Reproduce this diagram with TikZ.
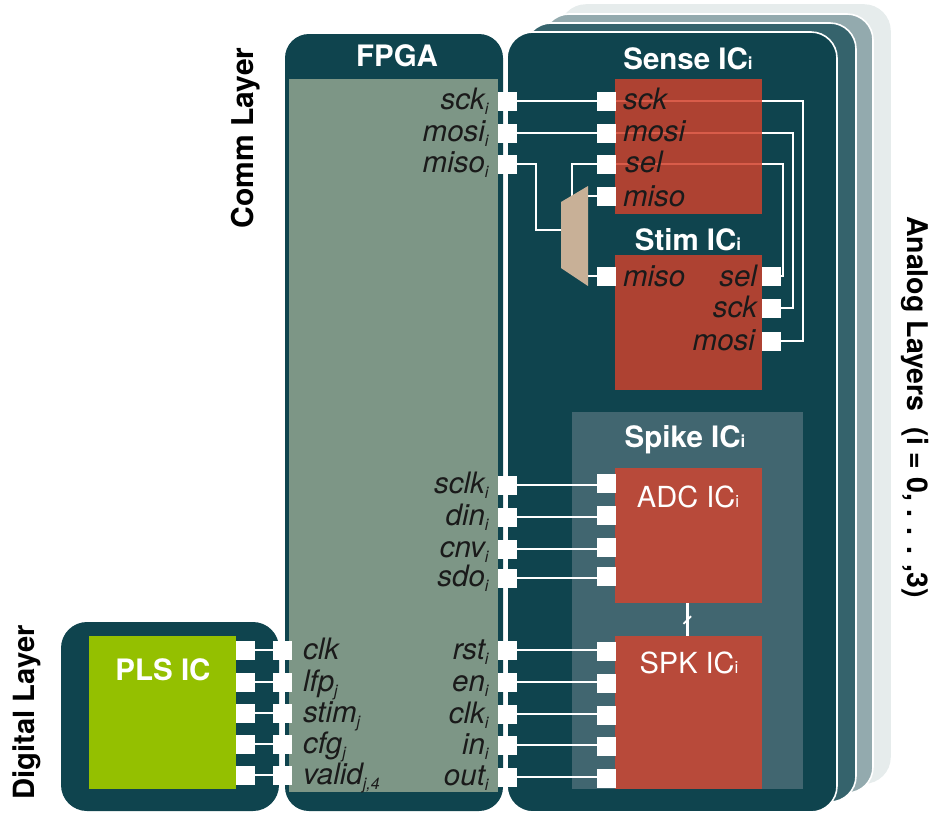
\documentclass[tikz,border=0pt]{standalone}
\usepackage{fontspec}
\usetikzlibrary{calc}
\setmainfont{TeX Gyre Heros}
\definecolor{teal}{HTML}{0F444E}
\definecolor{layA}{HTML}{E6ECEC}
\definecolor{layB}{HTML}{93AAAE}
\definecolor{layC}{HTML}{35636C}
\definecolor{fpgain}{HTML}{7D9686}
\definecolor{plsg}{HTML}{94C000}
\definecolor{senseR}{HTML}{AE4232}
\definecolor{spikeR}{HTML}{B84A3A}
\definecolor{spikeB}{HTML}{416670}
\definecolor{muxc}{HTML}{C8B097}
\definecolor{thru}{HTML}{D95C4A}
\definecolor{ink}{HTML}{1A1A1A}
\newcommand\subi[1]{\raisebox{-5pt}{\fontsize{16}{16}\selectfont\itshape #1}}
\newcommand\subt[1]{{\fontsize{17}{17}\selectfont #1}}
\newcommand\rectat[6]{\node[#1,minimum width=#5-#3,minimum height=#6-#4,anchor=north west] (#2) at (#3,#4) {};}
\tikzset{
  x=1pt,y=-1pt,
  box/.style={draw=none,inner sep=0pt,outer sep=0pt,rectangle},
  layerbox/.style={box,rounded corners=26pt,draw=white,line width=1.6pt},
  port/.style={box,fill=white,minimum width=19pt,minimum height=19pt},
  wire/.style={draw=white,line width=2.4pt},
  thruwire/.style={draw=thru,line width=2.4pt},
  lbl/.style={inner sep=0pt,outer sep=0pt,text=ink,font=\fontsize{29.5}{31}\selectfont\itshape},
  ttl/.style={inner sep=0pt,outer sep=0pt,text=white,font=\fontsize{29.5}{31}\selectfont\bfseries,anchor=base},
  plain/.style={inner sep=0pt,outer sep=0pt,text=white,font=\fontsize{29}{31}\selectfont,anchor=base},
  side/.style={inner sep=0pt,outer sep=0pt,text=black,font=\fontsize{28.5}{30}\selectfont\bfseries},
}
\begin{document}
\begin{tikzpicture}
\useasboundingbox (0,0) rectangle (933,812);
% analog layers, back to front
\rectat{layerbox,fill=layA,draw=layA}{lay3}{560}{5}{890}{783}
\rectat{layerbox,fill=layB}{lay2}{543}{14}{873}{793}
\rectat{layerbox,fill=layC}{lay1}{525}{23}{856}{802}
\rectat{layerbox,fill=teal}{lay0}{507}{32}{837}{812}
% FPGA and digital layer
\rectat{box,rounded corners=24pt,fill=teal}{fpga}{285}{34}{503}{811}
\rectat{box,fill=fpgain}{fpgain}{289}{79}{498}{792}
\rectat{box,rounded corners=26pt,fill=teal}{digi}{61}{622}{279}{811}
\rectat{box,fill=plsg}{pls}{89}{636}{236}{789}
% ICs
\rectat{box,fill=senseR}{sense}{615}{79}{762}{214}
\rectat{box,fill=senseR}{stim}{615}{255}{762}{390}
\rectat{box,fill=spikeB}{spike}{572}{412}{803}{789}
\rectat{box,fill=spikeR}{adc}{615}{468}{762}{603}
\rectat{box,fill=spikeR}{spk}{615}{636}{762}{789}
% mux
\coordinate (muxA) at (561,202);
\coordinate (muxB) at (588,186);
\coordinate (muxC) at (588,286);
\coordinate (muxD) at (561,268);
% ports
\foreach \n/\y in {sck/101,mosi/133,miso/164,sclk/485,din/517,cnv/549,sdo/578,rst/650,en/682,clki/714,in/745,out/777}
  \node[port] (f-\n) at (507.5,\y) {};
\foreach \n/\y in {sck/101,mosi/133,sel/164,miso/196}
  \node[port] (s-\n) at (606,\y) {};
\node[port] (t-miso) at (606.5,276) {};
\foreach \n/\y in {sel/276,sck/308,mosi/341}
  \node[port] (t-\n) at (771,\y) {};
\foreach \n/\y in {sclk/483,din/515,cnv/547,sdo/576}
  \node[port] (a-\n) at (606.5,\y) {};
\foreach \n/\y in {rst/651,en/683,clki/715,in/746,out/778}
  \node[port] (k-\n) at (606.5,\y) {};
\foreach \n/\y in {a/650,b/682,c/713,d/744,e/775} {
  \node[port] (p-\n) at (245,\y) {};
  \node[port] (g-\n) at (282.5,\y) {};
}
% wires
\foreach \n in {a,b,c,d,e} \draw[wire] (p-\n) -- (g-\n);
\foreach \n in {sclk,din,cnv,sdo} \draw[wire] (f-\n.east) -- (f-\n.east -| a-\n.west);
\foreach \n in {rst,en,clki,in,out} \draw[wire] (f-\n.east) -- (f-\n.east -| k-\n.west);
\foreach \n in {sck,mosi} {
  \draw[wire] (f-\n) -- (s-\n);
  \draw[thruwire] (s-\n.east) -- (s-\n.east -| sense.east);
}
\draw[thruwire] (s-sel.east) -- (s-sel.east -| sense.east);
\draw[wire] (s-sck.east -| sense.east) -- ++(41,0) |- (t-mosi.east);
\draw[wire] (s-mosi.east -| sense.east) -- ++(31,0) |- (t-sck.east);
\draw[wire] (s-sel.east -| sense.east) -- ++(21,0) |- (t-sel.east);
\draw[wire] (f-miso.east) -- ++(19,0) |- (561,230);
\draw[wire] (s-sel.west) -| (572,196);
\draw[wire] (588,196) -- (s-miso.west);
\draw[wire] (588,276) -- (t-miso.west);
\fill[muxc] (muxA) -- (muxB) -- (muxC) -- (muxD) -- cycle;
\draw[wire] ([xshift=-1pt]adc.south) -- ([xshift=-1pt]spk.north);
\coordinate (tickA) at ($(adc.south)!0.63!(spk.north)+(-5,0)$);
\coordinate (tickB) at ($(adc.south)!0.40!(spk.north)+(2.5,0)$);
\draw[draw=white,line width=1.8pt] (tickA) -- (tickB);
% titles
\node[ttl] (tFPGA) at (397,66) {FPGA};
\node[ttl] (tSense) at (688,69) {Sense IC\subt{i}};
\node[ttl] (tStim) at (688,250) {Stim IC\subt{i}};
\node[ttl] (tSpike) at (685,447) {Spike IC\subt{i}};
\node[plain] (tADC) at (688,507) {ADC IC\subt{i}};
\node[plain] (tSPK) at (689,673) {SPK IC\subt{i}};
\node[ttl] (tPLS) at (163,680) {PLS IC};
% FPGA labels
\foreach \t/\y in {sck/109,mosi/141,miso/172,sclk/493,din/525,cnv/557,sdo/586,rst/659,en/691,clk/723,in/754,out/785}
  \node[lbl,anchor=base east] (lf-\t) at (488.5,\y) {\t\subi{i}};
\node[lbl,anchor=base west] (ll-clk) at (303,659) {clk};
\node[lbl,anchor=base west] (ll-lfp) at (303,691) {lfp\subi{j}};
\node[lbl,anchor=base west] (ll-stim) at (303,722) {stim\subi{j}};
\node[lbl,anchor=base west] (ll-cfg) at (303,753) {cfg\subi{j}};
\node[lbl,anchor=base west] (ll-valid) at (303,784) {valid\subi{j,4}};
% IC labels
\node[lbl,anchor=base west] (ls-sck) at (623,109) {sck};
\node[lbl,anchor=base west] (ls-mosi) at (623,141) {mosi};
\node[lbl,anchor=base west] (ls-sel) at (625,172) {sel};
\node[lbl,anchor=base west] (ls-miso) at (623,206) {miso};
\node[lbl,anchor=base west] (lt-miso) at (623,286) {miso};
\node[lbl,anchor=base east] (lt-sel) at (757,286) {sel};
\node[lbl,anchor=base east] (lt-sck) at (757,317) {sck};
\node[lbl,anchor=base east] (lt-mosi) at (755,350) {mosi};
% side labels
\node[side,rotate=90,anchor=base,font=\fontsize{30}{31}\selectfont\bfseries] (cL) at (253,138) {Comm Layer};
\node[side,rotate=90,anchor=base,font=\fontsize{29.2}{31}\selectfont\bfseries] (dL) at (34,712.5) {Digital Layer};
\node[side,rotate=-90,anchor=base] (aL) at (907,407) {Analog Layers\ \ (i = 0, . . . ,3)};
\end{tikzpicture}
\end{document}
